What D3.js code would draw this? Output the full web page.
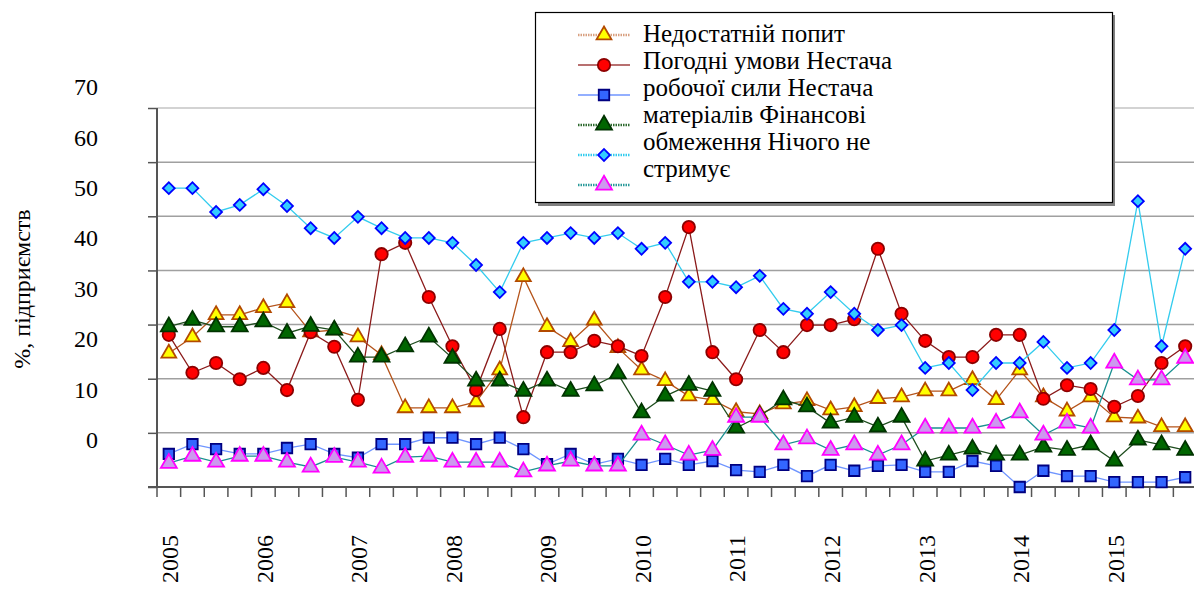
<!DOCTYPE html>
<html>
<head>
<meta charset="utf-8">
<script src="https://cdn.jsdelivr.net/npm/d3@7"></script>
<style>
  body { margin: 0; background: #fff; }
  svg text { font-family: "Liberation Serif", "DejaVu Serif", serif; fill: #000; }
</style>
</head>
<body>
<svg id="chart" width="1194" height="598"></svg>
<script>
// quarters 2005 Q1 .. 2015 Q4
const years = [2005, 2006, 2007, 2008, 2009, 2010, 2011, 2012, 2013, 2014, 2015];
const quarters = years.flatMap((y) => [1, 2, 3, 4].map((q) => `${y}Q${q}`));

const yTickLabels = [0, 10, 20, 30, 40, 50, 60, 70];

const demand = [24.7, 27.7, 31.8, 31.8, 33.1, 34.0, 28.6, 29.0, 27.7, 24.4, 14.6, 14.6, 14.6, 15.7, 21.6, 38.8, 29.6, 26.8, 30.8, 25.7, 21.6, 19.6, 16.8, 16.1, 13.9, 13.5, 15.3, 15.9, 14.2, 14.8, 16.3, 16.6, 17.7, 17.7, 19.8, 16.1, 21.6, 16.6, 14.0, 16.6, 12.9, 12.7, 11.1, 11.1];
const weather = [28.1, 21.1, 22.9, 19.9, 22.0, 17.9, 28.6, 25.9, 16.1, 43.0, 45.1, 35.1, 26.0, 17.9, 29.2, 12.9, 24.9, 24.9, 27.0, 26.0, 24.2, 35.1, 48.0, 24.9, 19.9, 29.0, 24.9, 29.9, 29.9, 31.0, 44.0, 32.0, 27.0, 24.0, 24.0, 28.1, 28.1, 16.3, 18.8, 18.1, 14.8, 16.8, 22.9, 26.0];
const labour = [6.1, 7.9, 7.0, 6.1, 6.1, 7.2, 7.9, 6.1, 5.4, 7.9, 7.9, 9.1, 9.1, 7.9, 9.1, 7.0, 4.2, 6.1, 4.2, 5.2, 4.1, 5.2, 4.1, 4.8, 3.1, 2.8, 4.1, 2.0, 4.1, 3.0, 3.9, 4.1, 2.8, 2.8, 4.8, 3.9, 0.0, 3.0, 2.0, 2.0, 0.9, 0.9, 0.9, 1.8];
const materials = [29.6, 30.8, 29.6, 29.6, 30.5, 28.4, 29.7, 29.0, 24.0, 24.0, 25.9, 27.7, 23.8, 19.6, 19.6, 17.7, 19.6, 17.7, 18.7, 20.9, 13.7, 16.8, 18.8, 17.7, 10.9, 13.1, 16.1, 14.8, 11.8, 12.9, 11.1, 12.9, 4.8, 5.9, 7.0, 5.9, 5.9, 7.4, 6.8, 7.8, 4.8, 8.7, 7.8, 6.8];
const finance = [55.2, 55.2, 50.8, 52.1, 55.0, 51.9, 47.8, 46.0, 49.9, 47.8, 46.0, 46.0, 45.1, 41.0, 36.0, 45.1, 46.0, 46.9, 46.0, 46.9, 44.0, 45.1, 37.9, 37.9, 36.9, 39.0, 32.9, 32.0, 36.0, 32.0, 29.0, 29.9, 22.0, 22.9, 17.9, 22.9, 22.9, 26.8, 22.0, 22.9, 29.0, 52.8, 26.0, 44.0];
const nothing = [4.4, 5.7, 4.6, 5.7, 5.7, 4.6, 3.7, 5.5, 4.6, 3.5, 5.5, 5.7, 4.6, 4.6, 4.6, 2.8, 3.9, 4.8, 3.9, 3.9, 9.6, 7.8, 5.9, 6.8, 12.9, 12.9, 7.8, 8.9, 6.8, 7.8, 5.9, 7.8, 10.9, 10.9, 10.9, 11.8, 13.7, 9.6, 11.8, 10.9, 22.9, 19.8, 19.8, 23.8];

const seriesNames = ["Недостатній попит", "Погодні умови", "Нестача робочої сили", "Нестача матеріалів", "Фінансові обмеження", "Нічого не стримує"];
// legend text is one wrapped paragraph in the original
const legendLines = ["Недостатній попит", "Погодні умови Нестача", "робочої сили Нестача", "матеріалів Фінансові", "обмеження Нічого не", "стримує"];

const series = [
  { name: seriesNames[0], values: demand, line: "#b5541b", fill: "#ffff00", stroke: "#b34a00", symbol: d3.symbolTriangle, size: 95, dash: "1.5,1", legendLine: "#d8a080" },
  { name: seriesNames[1], values: weather, line: "#8b1a1a", fill: "#ff0000", stroke: "#8b0000", symbol: d3.symbolCircle, size: 120, dash: null, legendLine: "#a04040" },
  { name: seriesNames[2], values: labour, line: "#6f95ff", fill: "#3366ff", stroke: "#000080", symbol: d3.symbolSquare, size: 110, dash: null, legendLine: "#6f95ff" },
  { name: seriesNames[3], values: materials, line: "#1e4d1e", fill: "#006600", stroke: "#003300", symbol: d3.symbolTriangle, size: 110, dash: "1.5,1", legendLine: "#2e6a2e" },
  { name: seriesNames[4], values: finance, line: "#33ccee", fill: "#33ccff", stroke: "#0000ff", symbol: d3.symbolSquare, size: 70, rotate: 45, dash: "1.5,1", legendLine: "#33ccee" },
  { name: seriesNames[5], values: nothing, line: "#1a9090", fill: "#cc99ee", stroke: "#ff00ff", symbol: d3.symbolTriangle, size: 110, dash: "1.5,1", legendLine: "#2a9a9a" },
];

const svg = d3.select("#chart");
const plotLeft = 157, plotRight = 1197, plotTop = 108, plotBottom = 487;

const x = d3.scaleBand().domain(quarters).range([plotLeft, plotRight]);
const y = d3.scaleLinear().domain([0, 70]).range([plotBottom, plotTop]);
// tick labels in the original sit apart from the grid
const yLabel = d3.scaleLinear().domain([0, 70]).range([440, 87]);
const cx = (i) => x(quarters[i]) + x.bandwidth() / 2;

// gridlines
svg.append("g")
  .selectAll("line")
  .data(d3.range(10, 71, 10))
  .join("line")
  .attr("x1", plotLeft).attr("x2", 1194)
  .attr("y1", (d) => y(d)).attr("y2", (d) => y(d))
  .attr("stroke", (d) => (d === 70 ? "#c4c4c4" : "#a0a0a0"))
  .attr("stroke-width", 1.5);

// y axis line + ticks
const yAxis = svg.append("g")
  .attr("transform", `translate(${plotLeft},0)`)
  .call(d3.axisLeft(y).tickValues(d3.range(0, 71, 10)).tickSize(9).tickFormat(""));
yAxis.selectAll("path").attr("stroke", "#555").attr("stroke-width", 2);
yAxis.selectAll("line").attr("stroke", "#555").attr("stroke-width", 1.5);
yAxis.select(".domain").attr("d", `M0,${plotTop}V${plotBottom}`);

// y tick labels
svg.append("g")
  .attr("transform", "translate(98,0)")
  .call(d3.axisLeft(yLabel).tickValues(yTickLabels).tickSize(0).tickPadding(0))
  .call((g) => g.select(".domain").remove())
  .attr("font-family", null)
  .attr("font-size", null)
  .selectAll("text")
  .style("font-size", "24px")
  .attr("fill", "#000");

// x axis with quarter boundary ticks
const xg = svg.append("g").attr("transform", `translate(0,${plotBottom})`);
xg.append("line").attr("x1", 148).attr("x2", 1194).attr("stroke", "#555").attr("stroke-width", 2);
xg.selectAll("line.tick")
  .data(d3.range(quarters.length + 1))
  .join("line")
  .attr("class", "tick")
  .attr("x1", (k) => plotLeft + k * x.step()).attr("x2", (k) => plotLeft + k * x.step())
  .attr("y1", 0).attr("y2", 10)
  .attr("stroke", "#555").attr("stroke-width", 1.5);

// year labels (rotated)
svg.append("g")
  .selectAll("text")
  .data(years)
  .join("text")
  .attr("transform", (d) => `translate(${cx(quarters.indexOf(d + "Q1")) + 1},535) rotate(-90)`)
  .attr("text-anchor", "end")
  .attr("dy", "0.35em")
  .style("font-size", "24px")
  .text((d) => d);

// y title
svg.append("text")
  .attr("transform", "translate(22,289) rotate(-90)")
  .attr("text-anchor", "middle")
  .attr("dy", "0.35em")
  .style("font-size", "24px")
  .text("%, підприємств");

// series
const lineGen = d3.line().x((d, i) => cx(i)).y((d) => y(d));
const sym = (s) => d3.symbol().type(s.symbol).size(s.size)();

series.forEach((s) => {
  const g = svg.append("g");
  g.append("path")
    .attr("d", lineGen(s.values))
    .attr("fill", "none")
    .attr("stroke", s.line)
    .attr("stroke-width", 1.3);
  g.selectAll("path.m")
    .data(s.values)
    .join("path")
    .attr("class", "m")
    .attr("d", sym(s))
    .attr("transform", (d, i) => `translate(${cx(i)},${y(d)}) rotate(${s.rotate || 0})`)
    .attr("fill", s.fill)
    .attr("stroke", s.stroke)
    .attr("stroke-width", 1.8);
});

// legend
const lg = svg.append("g");
lg.append("rect").attr("x", 538).attr("y", 15).attr("width", 577).attr("height", 191).attr("fill", "#808080");
lg.append("rect").attr("x", 535.5).attr("y", 12.5).attr("width", 577).attr("height", 190)
  .attr("fill", "#fff").attr("stroke", "#000").attr("stroke-width", 1.2);

series.forEach((s, k) => {
  const ly = 35 + k * 30;
  lg.append("line")
    .attr("x1", 578).attr("x2", 630).attr("y1", ly).attr("y2", ly)
    .attr("stroke", s.legendLine)
    .attr("stroke-width", s.dash ? 2.5 : 1.5)
    .attr("stroke-dasharray", s.dash);
  lg.append("path")
    .attr("d", sym(s))
    .attr("transform", `translate(604,${ly}) rotate(${s.rotate || 0})`)
    .attr("fill", s.fill).attr("stroke", s.stroke).attr("stroke-width", 1.8);
});

lg.append("g")
  .selectAll("text")
  .data(legendLines)
  .join("text")
  .attr("x", 643)
  .attr("y", (d, k) => 42 + k * 27)
  .style("font-size", "25px")
  .text((d) => d);
</script>
</body>
</html>
